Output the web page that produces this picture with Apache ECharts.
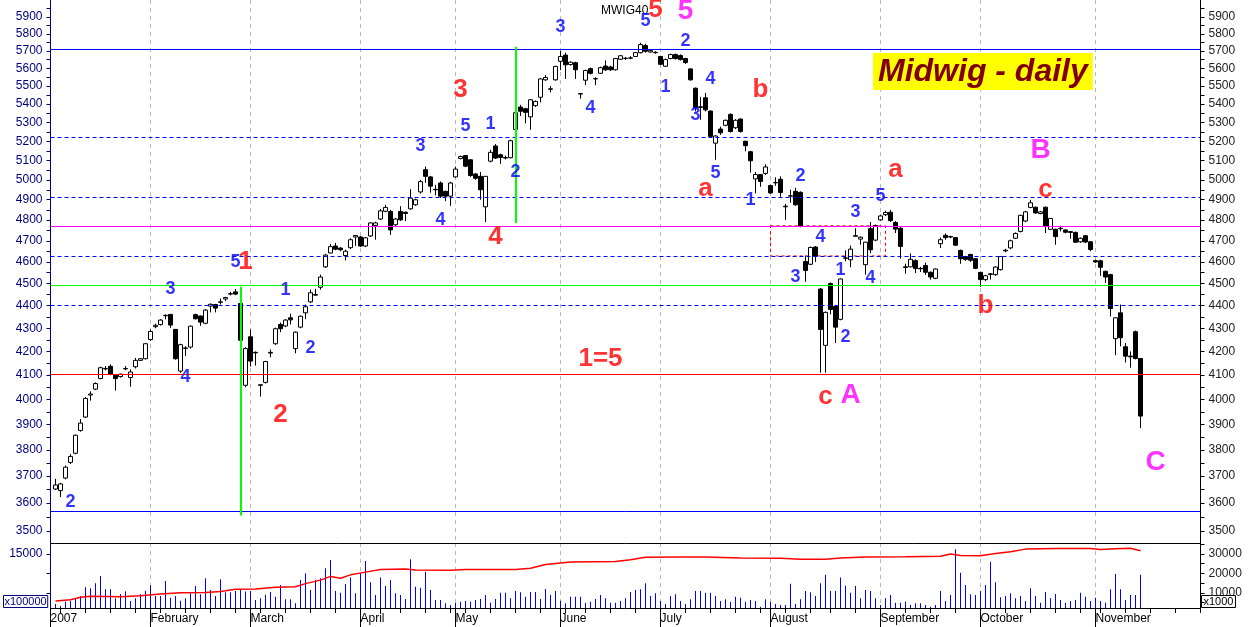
<!DOCTYPE html>
<html><head><meta charset="utf-8">
<script src="https://cdn.jsdelivr.net/npm/echarts@6/dist/echarts.min.js"></script>
<style>html,body{margin:0;padding:0;background:#fff}#c{width:1250px;height:627px}</style>
</head><body><div id="c"></div>
<script>
const priceTicks = [3500,3600,3700,3800,3900,4000,4100,4200,4300,4400,4500,4600,4700,4800,4900,5000,5100,5200,5300,5400,5500,5600,5700,5800,5900];
const volTicksRight = [10000,20000,30000];
const volTicksLeft = [15000];
const monthNames = ['2007','February','March','April','May','June','July','August','September','October','November',''];
const holidays = ['2007-04-06','2007-04-09','2007-05-01','2007-05-03','2007-06-07','2007-08-15','2007-11-01'];

const opens = [3652,3646,3693,3752,3787,3876,3929,4018,4042,4086,
 4126,4137,4100,4094,4126,4090,4135,4162,4169,4251,
 4307,4316,4355,4361,4295,4117,4213,4219,4360,4354,
 4322,4398,4405,4415,4430,4452,4462,4410,4058,4263,
 4196,4060,4070,4193,4233,4317,4310,4346,4212,4305,
 4368,4417,4447,4483,4577,4642,4675,4665,4630,4667,
 4718,4718,4675,4723,4774,4805,4843,4842,4777,4842,
 4838,4855,4875,4939,5052,5015,4952,4984,4942,4918,
 5015,5110,5125,5103,5030,5018,4865,5096,5175,5129,
 5115,5114,5263,5384,5375,5331,5392,5438,5535,5482,
 5535,5640,5676,5622,5632,5458,5533,5598,5540,5572,
 5613,5608,5592,5652,5656,5658,5668,5690,5731,5694,
 5692,5668,5612,5656,5679,5673,5656,5597,5488,5382,
 5435,5362,5190,5265,5285,5344,5272,5319,5200,5145,
 5005,5027,5033,4971,4985,5003,4865,4918,4942,4937,
 4602,4589,4670,4475,4226,4500,4396,4339,4617,4610,
 4724,4708,4587,4758,4703,4801,4826,4838,4788,4760,
 4577,4577,4606,4570,4583,4552,4524,4686,4726,4720,
 4715,4654,4625,4635,4615,4551,4518,4542,4541,4564,
 4652,4666,4712,4745,4795,4862,4863,4832,4863,4755,
 4755,4760,4752,4744,4740,4695,4724,4695,4606,4605,
 4556,4541,4255,4368,4220,4180,4285,4170];
const closes = [3667,3671,3734,3775,3857,3905,4004,4022,4065,4131,
 4128,4104,4086,4104,4128,4113,4162,4169,4233,4286,
 4313,4336,4357,4314,4169,4229,4215,4309,4342,4327,
 4380,4406,4389,4417,4436,4454,4452,4248,4212,4159,
 4194,4058,4157,4196,4298,4298,4336,4337,4283,4353,
 4395,4458,4450,4530,4632,4672,4660,4657,4650,4705,
 4725,4675,4714,4786,4786,4845,4862,4752,4805,4801,
 4832,4908,4900,4991,5018,4968,4950,4918,4918,4984,
 5055,5120,5070,5022,5008,4950,5018,5142,5112,5115,
 5112,5203,5353,5361,5355,5424,5415,5540,5548,5485,
 5611,5668,5620,5635,5592,5456,5588,5572,5542,5604,
 5592,5592,5656,5672,5658,5660,5690,5737,5698,5702,
 5690,5623,5650,5679,5656,5650,5633,5535,5380,5386,
 5369,5226,5228,5245,5312,5252,5312,5252,5177,5098,
 5027,4992,5066,4934,4987,4936,4868,4920,4875,4770,
 4560,4668,4627,4295,4370,4383,4305,4521,4619,4660,
 4722,4717,4693,4657,4773,4820,4837,4797,4756,4673,
 4574,4612,4569,4568,4552,4530,4567,4705,4715,4718,
 4679,4615,4612,4608,4570,4518,4536,4545,4576,4625,
 4655,4700,4735,4823,4840,4885,4835,4840,4770,4808,
 4720,4758,4741,4740,4693,4712,4694,4658,4600,4575,
 4530,4387,4346,4259,4180,4177,4170,3933];
const lows = [3648,3622,3688,3746,3783,3871,3925,3995,4038,4083,
 4120,4100,4036,4090,4121,4052,4128,4160,4166,4245,
 4300,4312,4339,4302,4165,4110,4180,4212,4338,4311,
 4318,4370,4370,4405,4420,4446,4447,4240,4050,4136,
 4140,4012,4065,4175,4228,4283,4305,4317,4192,4300,
 4340,4412,4445,4472,4572,4640,4655,4650,4607,4660,
 4675,4670,4670,4718,4705,4800,4838,4728,4772,4795,
 4795,4850,4870,4930,4985,4935,4922,4908,4893,4870,
 5010,5105,5065,5015,5000,4900,4790,5090,5108,5082,
 5105,5110,5260,5335,5295,5261,5385,5410,5530,5465,
 5530,5590,5540,5615,5540,5430,5505,5565,5505,5568,
 5585,5585,5588,5648,5648,5652,5665,5686,5690,5690,
 5684,5618,5608,5652,5650,5645,5625,5530,5360,5315,
 5360,5220,5103,5234,5280,5246,5265,5246,5147,5037,
 4932,4965,5025,4930,4970,4915,4800,4885,4870,4765,
 4508,4585,4600,4110,4110,4361,4236,4335,4603,4575,
 4720,4681,4541,4641,4698,4796,4820,4790,4737,4615,
 4545,4575,4548,4553,4540,4518,4520,4665,4705,4712,
 4675,4591,4605,4600,4566,4485,4512,4518,4535,4560,
 4645,4660,4708,4740,4790,4858,4830,4828,4737,4752,
 4681,4745,4735,4710,4690,4690,4690,4650,4595,4535,
 4503,4352,4184,4222,4153,4131,4166,3885];
const highs = [3690,3675,3740,3784,3860,3921,4010,4033,4070,4135,
 4138,4145,4104,4106,4138,4124,4172,4172,4236,4295,
 4320,4340,4361,4363,4297,4233,4222,4312,4364,4356,
 4385,4410,4408,4432,4440,4462,4475,4415,4218,4295,
 4200,4061,4160,4208,4303,4325,4340,4364,4286,4356,
 4405,4472,4476,4541,4638,4685,4690,4670,4658,4712,
 4728,4722,4717,4790,4792,4855,4875,4850,4810,4868,
 4842,4953,4905,5000,5068,5020,4975,4992,4945,4990,
 5068,5125,5128,5106,5035,5040,5020,5155,5185,5135,
 5125,5208,5360,5396,5380,5428,5420,5545,5562,5500,
 5615,5700,5690,5640,5638,5460,5592,5605,5550,5610,
 5645,5615,5660,5676,5665,5670,5694,5748,5742,5708,
 5698,5672,5656,5684,5685,5680,5660,5600,5492,5440,
 5462,5366,5232,5278,5316,5350,5318,5322,5203,5150,
 5040,5030,5080,4976,5013,5018,4880,4950,4960,4942,
 4630,4672,4675,4480,4374,4505,4400,4524,4654,4677,
 4760,4720,4695,4790,4778,4826,4845,4850,4795,4765,
 4592,4640,4612,4577,4597,4555,4570,4715,4735,4724,
 4718,4658,4628,4638,4618,4555,4540,4548,4580,4628,
 4662,4705,4740,4826,4845,4900,4866,4845,4866,4810,
 4758,4772,4756,4746,4744,4716,4728,4698,4610,4610,
 4560,4545,4348,4405,4236,4200,4290,4172];
const volumes = [4350,3300,5550,5900,7300,8450,12900,12400,15000,18700,
 11900,11900,7300,9500,10850,5900,7300,9500,11200,13950,
 8450,8450,16150,7600,8450,6050,7300,9850,13600,9300,
 17500,11550,8450,17000,10350,10350,11000,11550,10700,11000,
 6400,7300,8950,10500,8100,14100,6750,6750,4700,16650,
 20100,11550,16650,17500,22650,26900,11000,10150,14600,18000,
 9850,20100,26400,15450,8950,18000,13600,16650,9850,8950,
 6900,27300,13200,12700,20900,11550,6400,6400,4700,3850,
 5050,5550,5900,5550,6400,6900,8950,5050,6900,10150,
 10150,7300,11000,10350,8100,10500,10500,6900,12050,8950,
 11000,6000,4700,8100,8100,8100,5050,5550,6900,8950,
 7300,5050,5050,5900,7300,10500,11550,11900,15000,8450,
 9850,5900,4350,8450,9300,5900,4350,6750,11000,11000,
 10150,10150,8450,5900,6750,5400,8100,7600,5550,6400,
 5900,3000,6750,5500,4350,3850,3850,14750,4350,6750,
 11000,10350,8450,15000,19300,11000,11000,18000,13750,10150,
 13600,7300,11550,11000,7300,3850,7300,8950,5050,5050,
 5550,3850,4700,4700,3850,3000,3850,11000,5900,8950,
 32400,20400,14100,9300,8950,11000,14100,26050,15450,7800,
 8450,9850,7300,8450,5900,12400,8450,5050,10500,7300,
 9500,6400,5050,5900,6400,10150,8100,5900,7600,5900,
 5050,11900,19700,11900,6400,8950,8950,19300];
// moving average of volume, sampled points [day index, value]
const volAvg = [[0,5900],[3,6500],[5,7800],[7,8300],[13,8100],[17,8600],[21,9500],[25,10100],[30,10300],[33,10800],[36,11900],[40,12000],[44,12900],[48,13200],[50,14800],[53,16600],[55,18500],[57,17600],[59,19300],[62,20700],[65,22100],[70,22300],[72,21800],[79,21700],[82,22100],[92,22100],[95,22700],[98,24600],[103,25900],[112,26200],[115,27000],[118,28300],[125,28500],[130,28400],[137,27900],[145,27800],[149,27300],[154,27300],[157,28000],[162,28500],[170,28600],[177,28800],[179,30000],[181,29200],[185,29100],[188,30200],[191,31200],[194,32500],[200,32800],[207,32800],[209,32300],[212,32700],[215,32900],[217,31700]];
// horizontal reference lines [price, color, type]
const hLines = [[5737,'#0000ff','solid'],[5220,'#0000ff','dashed'],[4899,'#0000ff','dashed'],[4791,'#ff00ff','solid'],[4645,'#0000ff','dashed'],[4476,'#00ff00','solid'],[4387,'#0000ff','dashed'],[4105,'#ff0000','solid'],[3561,'#0000ff','solid']];
// vertical green segments [day index, from price, to price]
const vLines = [[37,4485,3555],[92,5724,4785]];
// gap box [day from, price top, day to, price bottom]
const gapBox = [143,4772,166,4628];
// wave labels [day index, price, text, colour key]
const waveLabels = [
 [3,3605,'2','b'],[23,4473,'3','b'],[26,4094,'4','b'],[36,4601,'5','b'],[38,4600,'1','r'],
 [46,4470,'1','b'],[51,4213,'2','b'],[45,3937,'2','r'],
 [73,5175,'3','b'],[77,4801,'4','b'],[82,5283,'5','b'],[87,5292,'1','b'],[92,5042,'2','b'],
 [81,5479,'3','r'],[88,4720,'4','r'],
 [101,5840,'3','b'],[107,5380,'4','b'],[118,5878,'5','b'],[120,5942,'5','r'],[126,5932,'5','m'],
 [122,5497,'1','b'],[126,5760,'2','b'],[131,5538,'4','b'],[128,5341,'3','b'],[132,5034,'5','b'],
 [130,4955,'a','r'],[141,5479,'b','r'],
 [139,4900,'1','b'],[149,5021,'2','b'],[148,4531,'3','b'],[153,4720,'4','b'],[157,4564,'1','b'],[158,4263,'2','b'],[160,4841,'3','b'],[163,4526,'4','b'],[165,4919,'5','b'],
 [168,5052,'a','r'],[154,4011,'c','r'],[159,4018,'A','m'],
 [109,4168,'1=5','r'],[186,4398,'b','r'],[198,4950,'c','r'],[197,5155,'B','m'],[220,3754,'C','m']
];

// ---- build ----
const L = Math.log;
const N = 231, OFF = 1;
const dates = [];
{ let d = new Date(Date.UTC(2007,0,4));
  while (dates.length < N) { const wd = d.getUTCDay(); const s = d.toISOString().slice(0,10);
    if (wd !== 0 && wd !== 6 && !holidays.includes(s)) dates.push(s); d.setUTCDate(d.getUTCDate()+1); } }
const monthStart = dates.map((s,k)=> (k===0 || s.slice(5,7)!==dates[k-1].slice(5,7)) && s.slice(5,7)!=='12');
const weekStart = dates.map((s,k)=> k===0 || new Date(s).getUTCDay() <= new Date(dates[k-1]).getUTCDay());
const candle = dates.map((s,k)=>{const i=k-OFF; return (i<0||i>=opens.length)?'-':[L(opens[i]),L(closes[i]),L(lows[i]),L(highs[i])];});
const vol = dates.map((s,k)=>{const i=k-OFF; return (i<0||i>=volumes.length)?'-':volumes[i];});
const ma = volAvg.map(p=>[p[0]+OFF,p[1]]);
const colorOf = {b:'#0000ff', r:'#ff0000', m:'#ff00ff'};
const sizeOf = {b:18, r:26, m:28};
const labelData = waveLabels.map(w=>({value:[w[0]+OFF, L(w[1])], name:w[2],
  label:{color:colorOf[w[3]], fontSize:sizeOf[w[3]]}}));
const yMin = L(5900) - 526/984, yMax = L(5900) + 17/984;
const minorTicks = []; for (let p=3500;p<=5950;p+=50) minorTicks.push(L(p));
const FF = 'Liberation Sans, Arial, sans-serif';
const NAVY = '#000080';

const markLines = hLines.map(h=>({yAxis:L(h[0]), lineStyle:{color:h[1], type:h[2]==='dashed'?[4,3]:'solid', width:1, opacity:1}}))
 .concat(vLines.map(v=>[{coord:[v[0]+OFF, L(v[1])], lineStyle:{color:'#00ff00', width:2, type:'solid', opacity:1}},{coord:[v[0]+OFF, L(v[2])]}]));

const chart = echarts.init(document.getElementById('c'), null, {renderer:'canvas'});
chart.setOption({
  animation:false,
  backgroundColor:'#ffffff',
  title:[
    {text:'Midwig - daily', left:873, top:53, padding:[1,5,0,5], backgroundColor:'#ffff00',
     textStyle:{fontFamily:FF, fontSize:32, lineHeight:36, fontWeight:'bold', fontStyle:'italic', color:'#800000'}},
    {text:'MWIG40', left:601, top:5, padding:0, textStyle:{fontFamily:FF, fontSize:12, fontWeight:'normal', color:'#000'}}
  ],
  graphic:[
    {type:'text', left:3, top:595, style:{text:'x100000', fill:NAVY, font:'11px '+FF, borderColor:NAVY, borderWidth:1, padding:[1,1,0,1]}},
    {type:'text', left:1201, top:595, style:{text:'x1000', fill:'#000', font:'11px '+FF, borderColor:'#000', borderWidth:1, padding:[1,2,0,2]}}
  ],
  grid:[
    {left:50.5, right:49.5, top:0, height:543, containLabel:false, outerBoundsMode:'none'},
    {left:50.5, right:49.5, top:543, height:65, containLabel:false, outerBoundsMode:'none'}
  ],
  xAxis:[
    {type:'category', gridIndex:0, position:'bottom', data:dates, boundaryGap:false,
     axisLine:{show:true, onZero:false, lineStyle:{color:'#000', width:1}}, axisTick:{show:false}, axisLabel:{show:false},
     splitLine:{show:true, interval:(i)=>monthStart[i], lineStyle:{color:'#b8b8b8', type:[4,4], width:1}}},
    {type:'category', gridIndex:1, position:'bottom', data:dates, boundaryGap:false,
     axisLine:{show:true, onZero:false, lineStyle:{color:'#000', width:1}},
     axisTick:{show:true, interval:(i)=>weekStart[i], length:5, lineStyle:{color:'#000'}}, axisLabel:{show:false},
     splitLine:{show:true, interval:(i)=>monthStart[i], lineStyle:{color:'#b8b8b8', type:[4,4], width:1}}},
    {type:'category', gridIndex:1, position:'bottom', offset:0, data:dates, boundaryGap:false,
     axisLine:{show:false, onZero:false},
     axisTick:{show:true, interval:(i)=>monthStart[i], length:19, lineStyle:{color:'#000'}},
     axisLabel:{show:true, interval:(i)=>monthStart[i], align:'left', margin:5, color:'#000', fontFamily:FF, fontSize:12,
       formatter:(v)=> monthNames[parseInt(v.slice(5,7),10)-1]},
     splitLine:{show:false}}
  ],
  yAxis:[
    {type:'value', gridIndex:0, position:'left', min:yMin, max:yMax,
     axisLine:{show:true, lineStyle:{color:NAVY}}, splitLine:{show:false},
     axisTick:{show:true, customValues:minorTicks, length:4, lineStyle:{color:NAVY}},
     axisLabel:{customValues:priceTicks.map(L), formatter:(v)=>String(Math.round(Math.exp(v))), color:NAVY, fontFamily:FF, fontSize:12, margin:8}},
    {type:'value', gridIndex:0, position:'right', min:yMin, max:yMax,
     axisLine:{show:true, lineStyle:{color:'#000'}}, splitLine:{show:false},
     axisTick:{show:true, customValues:minorTicks, length:4, lineStyle:{color:'#000'}},
     axisLabel:{customValues:priceTicks.map(L), formatter:(v)=>String(Math.round(Math.exp(v))), color:'#222', fontFamily:FF, fontSize:12, margin:8}},
    {type:'value', gridIndex:1, position:'left', min:1150, max:17820,
     axisLine:{show:true, lineStyle:{color:NAVY}}, splitLine:{show:false},
     axisTick:{show:true, customValues:[5000,10000,15000], length:4, lineStyle:{color:NAVY}},
     axisLabel:{customValues:volTicksLeft, formatter:(v)=>String(v), color:NAVY, fontFamily:FF, fontSize:12, margin:8}},
    {type:'value', gridIndex:1, position:'right', min:2300, max:35640,
     axisLine:{show:true, lineStyle:{color:'#000'}}, splitLine:{show:false},
     axisTick:{show:true, customValues:[5000,10000,15000,20000,25000,30000,35000], length:4, lineStyle:{color:'#000'}},
     axisLabel:{customValues:volTicksRight, formatter:(v)=>String(v), color:'#222', fontFamily:FF, fontSize:12, margin:8}}
  ],
  series:[
    {type:'candlestick', xAxisIndex:0, yAxisIndex:0, data:candle, barWidth:4,
     itemStyle:{color:'#ffffff', color0:'#000000', borderColor:'#000000', borderColor0:'#000000', borderWidth:1},
     markLine:{silent:true, symbol:['none','none'], label:{show:false}, data:markLines},
     markArea:{silent:true, itemStyle:{color:'rgba(0,0,0,0)', borderColor:'#ff0000', borderWidth:1, borderType:[3,3]},
       data:[[{coord:[gapBox[0]+OFF, L(gapBox[1])]},{coord:[gapBox[2]+OFF, L(gapBox[3])]}]]}},
    {type:'scatter', xAxisIndex:0, yAxisIndex:0, data:labelData, symbolSize:1, clip:false, silent:true, z:10,
     itemStyle:{color:'rgba(0,0,0,0)'},
     label:{show:true, position:'inside', formatter:(p)=>p.name, fontFamily:FF, fontWeight:'bold'}},
    {type:'bar', xAxisIndex:1, yAxisIndex:3, data:vol, barWidth:1, itemStyle:{color:'#0000ff', opacity:1}},
    {type:'line', xAxisIndex:1, yAxisIndex:3, data:ma, showSymbol:false, symbol:'none',
     lineStyle:{color:'#ff0000', width:1.5}, z:5}
  ]
});
</script></body></html>
